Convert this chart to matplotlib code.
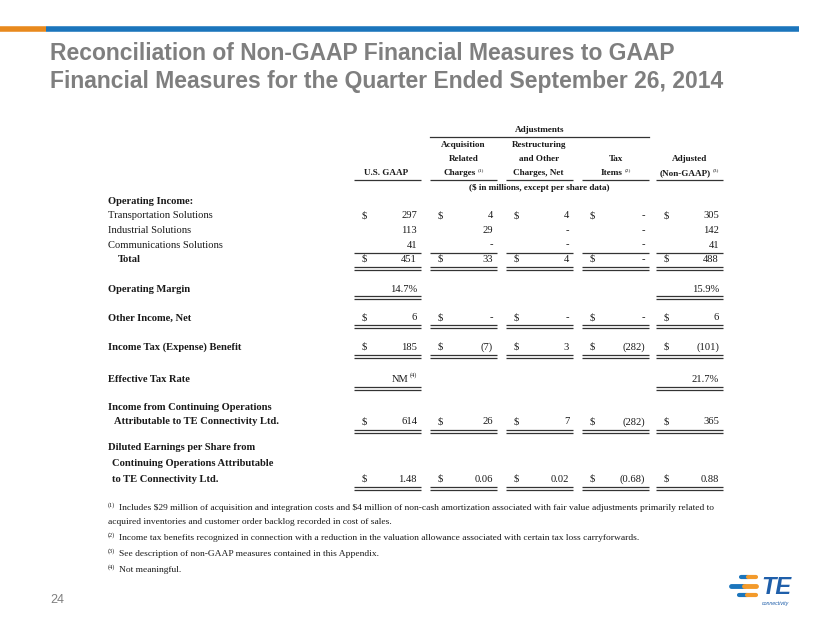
import matplotlib.pyplot as plt

plt.rcParams['font.family'] = ['Liberation Serif', 'DejaVu Serif']

# ---- data ----
title_lines = ['Reconciliation of Non-GAAP Financial Measures to GAAP',
               'Financial Measures for the Quarter Ended September 26, 2014']
col_heads = [['U.S. GAAP'],
             ['Acquisition', 'Related', 'Charges'],
             ['Restructuring', 'and Other', 'Charges, Net'],
             ['Tax', 'Items'],
             ['Adjusted', '(Non-GAAP)']]
head_notes = ['', '(1)', '', '(2)', '(3)']

segments = ['Transportation Solutions', 'Industrial Solutions', 'Communications Solutions']
transportation = [297, 4, 4, 0, 305]
industrial = [113, 29, 0, 0, 142]
communications = [41, 0, 0, 0, 41]
total = [451, 33, 4, 0, 488]
op_margin = ['14.7%', '15.9%']
other_income = [6, 0, 0, 0, 6]
income_tax = [185, -7, 3, -282, -101]
eff_tax_rate = ['NM', '21.7%']
income_cont_ops = [614, 26, 7, -282, 365]
diluted_eps = [1.48, 0.06, 0.02, -0.68, 0.88]

footnotes = [
    ('(1)', ['Includes \\$29 million of acquisition and integration costs and \\$4 million of non-cash amortization associated with fair value adjustments primarily related to',
             'acquired inventories and customer order backlog recorded in cost of sales.']),
    ('(2)', ['Income tax benefits recognized in connection with a reduction in the valuation allowance associated with certain tax loss carryforwards.']),
    ('(3)', ['See description of non-GAAP measures contained in this Appendix.']),
    ('(4)', ['Not meaningful.']),
]

# ---- layout ----
col_left = [354, 430, 506, 582, 656]
col_w = 67
txt = '#1a1a1a'
lab_x = 108
fs = 7.6
hfs = 6.6

fig = plt.figure(figsize=(8.3, 6.23), dpi=100)
ax = fig.add_axes([0, 0, 1, 1])
ax.set_xlim(0, 830)
ax.set_ylim(623, 0)
ax.axis('off')
fig.canvas.draw()
renderer = fig.canvas.get_renderer()


def width_of(s, **kw):
    t = ax.text(0, 0, s, **kw)
    w = t.get_window_extent(renderer).width
    t.remove()
    return w


def with_sup(x, y, main, sup, size, weight='normal', ha='center'):
    w_main = width_of(main, fontsize=size, fontweight=weight)
    w_sup = width_of(sup, fontsize=size * 0.6) if sup else 0
    if ha == 'center':
        x0 = x - (w_main + w_sup + 2) / 2
    else:
        x0 = x
    ax.text(x0, y, main, fontsize=size, fontweight=weight, color=txt, va='center', ha='left')
    if sup:
        ax.text(x0 + w_main + 2, y - 3, sup, fontsize=size * 0.6, color=txt, va='center', ha='left')


def fmt(v, dec=0):
    if v == 0:
        return '-'
    s = f'{abs(v):,.{dec}f}'
    return f'({s})' if v < 0 else s


def put_row(y, vals, dollar=True, dec=0):
    for i, v in enumerate(vals):
        if dollar:
            ax.text(col_left[i] + 8, y, '$', fontsize=fs, color=txt, va='center', ha='left')
        ax.text(col_left[i] + col_w - 4, y, fmt(v, dec), fontsize=fs, color=txt, va='center', ha='right')


def rule(y, cols=range(5), double=False):
    for i in cols:
        ax.plot([col_left[i], col_left[i] + col_w], [y, y], color='#333333', lw=0.9, solid_capstyle='butt')
        if double:
            ax.plot([col_left[i], col_left[i] + col_w], [y + 2.5, y + 2.5], color='#333333', lw=0.9,
                    solid_capstyle='butt')


# top bar
ax.plot([0, 46], [28.5, 28.5], color='#E8891D', lw=4, solid_capstyle='butt')
ax.plot([46, 799], [28.5, 28.5], color='#1B75BC', lw=4, solid_capstyle='butt')

# title
for k, line in enumerate(title_lines):
    ax.text(50, 60 + k * 28, line, family='Liberation Sans', fontsize=16.5, fontweight='bold',
            color='#7f7f7f', va='baseline', ha='left')

# header
adj_mid = (col_left[1] + col_left[3] + col_w) / 2
ax.text(adj_mid, 130, 'Adjustments', fontsize=hfs, fontweight='bold', color=txt, va='center', ha='center')
ax.plot([col_left[1], col_left[3] + col_w], [137, 137], color='#333333', lw=0.9)
for i, lines in enumerate(col_heads):
    cx = col_left[i] + col_w / 2
    n = len(lines)
    for k, line in enumerate(lines):
        y = 173 - (n - 1 - k) * 14
        if k == n - 1:
            with_sup(cx, y, line, head_notes[i], hfs, weight='bold')
        else:
            ax.text(cx, y, line, fontsize=hfs, fontweight='bold', color=txt, va='center', ha='center')
rule(180)
ax.text(adj_mid, 188, '(\\$ in millions, except per share data)', fontsize=hfs, fontweight='bold',
        color=txt, va='center', ha='center')

# operating income block
ax.text(lab_x, 202, 'Operating Income:', fontsize=fs, fontweight='bold', color=txt, va='center')
for k, (name, vals) in enumerate(zip(segments, [transportation, industrial, communications])):
    y = 216 + k * 14.5
    ax.text(lab_x, y, name, fontsize=fs, color=txt, va='center')
    put_row(y, vals, dollar=(k == 0))
rule(252.5)
ax.text(lab_x + 10, 259.5, 'Total', fontsize=fs, fontweight='bold', color=txt, va='center')
put_row(259.5, total)
rule(267, double=True)

# operating margin
ax.text(lab_x, 289, 'Operating Margin', fontsize=fs, fontweight='bold', color=txt, va='center')
for i, v in zip([0, 4], op_margin):
    ax.text(col_left[i] + col_w - 4, 289, v, fontsize=fs, color=txt, va='center', ha='right')
rule(296, cols=[0, 4], double=True)

# other income
ax.text(lab_x, 318, 'Other Income, Net', fontsize=fs, fontweight='bold', color=txt, va='center')
put_row(318, other_income)
rule(325, double=True)

# income tax
ax.text(lab_x, 347, 'Income Tax (Expense) Benefit', fontsize=fs, fontweight='bold', color=txt, va='center')
put_row(347, income_tax)
rule(355, double=True)

# effective tax rate
ax.text(lab_x, 379, 'Effective Tax Rate', fontsize=fs, fontweight='bold', color=txt, va='center')
sup_w = width_of('(4)', fontsize=fs * 0.6)
xr = col_left[0] + col_w - 4
ax.text(xr - sup_w - 1, 379, eff_tax_rate[0], fontsize=fs, color=txt, va='center', ha='right')
ax.text(xr, 375, '(4)', fontsize=fs * 0.6, color=txt, va='center', ha='right')
ax.text(col_left[4] + col_w - 4, 379, eff_tax_rate[1], fontsize=fs, color=txt, va='center', ha='right')
rule(387, cols=[0, 4], double=True)

# income from continuing ops
ax.text(lab_x, 408, 'Income from Continuing Operations', fontsize=fs, fontweight='bold', color=txt, va='center')
ax.text(lab_x + 6, 422, 'Attributable to TE Connectivity Ltd.', fontsize=fs, fontweight='bold', color=txt,
        va='center')
put_row(422, income_cont_ops)
rule(430, double=True)

# diluted EPS
ax.text(lab_x, 447, 'Diluted Earnings per Share from', fontsize=fs, fontweight='bold', color=txt, va='center')
ax.text(lab_x + 4, 464, 'Continuing Operations Attributable', fontsize=fs, fontweight='bold', color=txt,
        va='center')
ax.text(lab_x + 4, 479, 'to TE Connectivity Ltd.', fontsize=fs, fontweight='bold', color=txt, va='center')
put_row(479, diluted_eps, dec=2)
rule(487, double=True)

# footnotes
y = 508
for mark, lines in footnotes:
    ax.text(lab_x, y - 3, mark, fontsize=fs * 0.6, color=txt, va='center', ha='left')
    for k, line in enumerate(lines):
        ax.text(lab_x + (11 if k == 0 else 0), y, line, fontsize=6.8, color=txt, va='center', ha='left')
        y += 14
    y += 2

# page number
ax.text(50, 600, '24', family='Liberation Sans', fontsize=9, color='#7f7f7f', va='center', ha='left')

# logo
ax.plot([741, 748], [577, 577], color='#1B75BC', lw=3, solid_capstyle='round')
ax.plot([748, 756], [577, 577], color='#F39A2B', lw=3, solid_capstyle='round')
ax.plot([731, 744], [586, 586], color='#1B75BC', lw=3.5, solid_capstyle='round')
ax.plot([744, 756], [586, 586], color='#F39A2B', lw=3.5, solid_capstyle='round')
ax.plot([739, 747], [595, 595], color='#1B75BC', lw=3, solid_capstyle='round')
ax.plot([747, 756], [595, 595], color='#F39A2B', lw=3, solid_capstyle='round')
ax.text(776, 587, 'TE', family='Liberation Sans', fontsize=17, fontweight='bold', fontstyle='italic',
        color='#1F5FAA', va='center', ha='center')
ax.text(775, 604, 'connectivity', family='Liberation Sans', fontsize=3.8, fontstyle='italic',
        color='#1F5FAA', va='center', ha='center')

fig.savefig('out.png', dpi=100)
